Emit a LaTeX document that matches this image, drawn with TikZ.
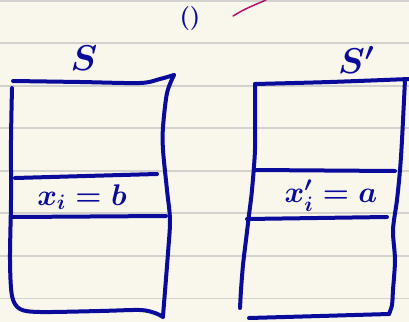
\RequirePackage{fix-cm}
\documentclass[tikz,border=0pt]{standalone}
\usepackage{amsmath, amssymb}
\usepackage{tikz}
\usetikzlibrary{arrows.meta, calc, positioning}
\usepackage{xcolor}
\definecolor{paper}{RGB}{249,247,236}
\definecolor{ruled}{RGB}{211,210,206}
\definecolor{ink}{RGB}{10,10,155}
\definecolor{pen}{RGB}{180,20,110}

\begin{document}
\begin{tikzpicture}[x=1bp, y=-1bp,
    ruling/.style={ruled, line width=1.8bp},
    inkline/.style={ink, line width=4bp, line cap=round, line join=round},
    hand/.style={ink, inner sep=0pt, font=\fontsize{36}{38}\selectfont\boldmath},
    eqn/.style={ink, inner sep=0pt, font=\fontsize{30}{32}\selectfont\boldmath}]
    \fill[paper] (0,0) rectangle (409,322);
    \useasboundingbox (0,0) rectangle (409,322);

    % ruled paper
    \foreach \k in {0,...,7}
        \draw[ruling] (0,0.6+42.55*\k) -- (409,0.6+42.55*\k);

    % array S
    \draw[inkline] plot[smooth, tension=0.5] coordinates {(13,81) (80,82) (140,83) (160,79) (174,75)};
    \draw[inkline] plot[smooth, tension=0.5] coordinates {(174,75) (167,93) (163,127) (163,150) (167,190) (170,220) (168,253) (163,316)};
    \draw[inkline] plot[smooth, tension=0.5] coordinates {(12,88) (11,140) (11,200) (10,260) (12,296) (20,309) (40,312) (100,311) (140,310) (155,313) (163,317)};
    \draw[inkline] (15,178) -- (157,174);
    \draw[inkline] (13,217) -- (166,216);
    \node[hand] (s) at (84,58) {$S$};
    \node[eqn] (eqb) at (82,197) {$x_i = b$};

    % array S'
    \draw[inkline] plot[smooth, tension=0.5] coordinates {(255,84) (330,82) (409,79)};
    \draw[inkline] plot[smooth, tension=0.5] coordinates {(255,84) (255,110) (255,150) (252,190) (249,215) (246,240) (243,265) (241,290) (240,308)};
    \draw[inkline] plot[smooth, tension=0.5] coordinates {(405,80) (402,140) (400,170) (397,200) (393,230) (395,260) (393,290) (392,305) (389,314)};
    \draw[inkline] plot[smooth, tension=0.5] coordinates {(249,318) (320,316) (389,314)};
    \draw[inkline] (255,170) -- (395,171);
    \draw[inkline] (247,219) -- (387,217);
    \node[hand] (sp) at (356,60) {$S'$};
    \node[eqn] (eqa) at (331,196) {$x_i' = a$};

    \node[ink, inner sep=0pt, font=\fontsize{24}{26}\selectfont\bfseries] (paren) at (190,19) {()};
    \draw[pen, line width=1.5bp, line cap=round] (233,16) .. controls (245,9) .. (266,0);
\end{tikzpicture}
\end{document}
